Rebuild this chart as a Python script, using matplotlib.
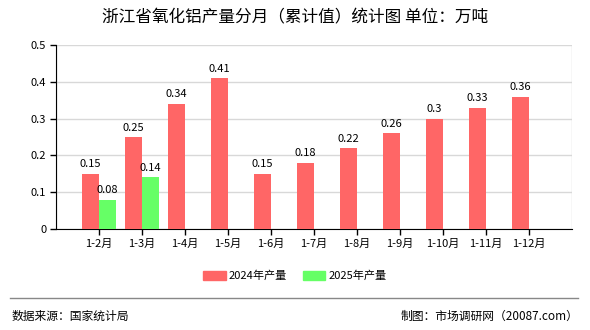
import numpy as np
import matplotlib.pyplot as plt
from matplotlib.patches import Patch
from matplotlib.lines import Line2D

plt.rcParams['font.family'] = ['Noto Sans CJK SC', 'DejaVu Sans']

# données
months = ['1-2月', '1-3月', '1-4月', '1-5月', '1-6月', '1-7月', '1-8月',
          '1-9月', '1-10月', '1-11月', '1-12月']
val_2024 = [0.15, 0.25, 0.34, 0.41, 0.15, 0.18, 0.22, 0.26, 0.3, 0.33, 0.36]
val_2025 = [0.08, 0.14]
yticks = [0, 0.1, 0.2, 0.3, 0.4, 0.5]

c24 = '#ff6666'
c25 = '#66ff66'

fig = plt.figure(figsize=(5.9, 3.3), dpi=100)
ax = fig.add_axes([56/590, 1-229/330, (572-56)/590, (229-45)/330])

x = np.arange(1, len(months) + 1)
w = 0.4
ax.bar(x - w, val_2024, width=w, align='edge', color=c24, zorder=3)
x25 = x[:len(val_2025)]
ax.bar(x25, val_2025, width=w, align='edge', color=c25, zorder=3)

# étiquettes de valeurs
def fmt(v):
    return ('%.2f' % v).rstrip('0').rstrip('.')

for xi, v in zip(x, val_2024):
    ax.text(xi - w/2, v + 0.012, fmt(v), ha='center', va='bottom', fontsize=8)
for xi, v in zip(x25, val_2025):
    ax.text(xi + w/2, v + 0.012, fmt(v), ha='center', va='bottom', fontsize=8)

ax.set_xlim(0, 12)
ax.set_ylim(0, 0.5)
ax.set_yticks(yticks)
ax.set_yticklabels(['0', '0.1', '0.2', '0.3', '0.4', '0.5'], fontsize=8)
ax.set_xticks(x)
ax.set_xticklabels(months, fontsize=8)
ax.set_xticks(np.arange(0, 13), minor=True)

ax.grid(True, which='major', axis='y', color='#d8d8d8', lw=1, zorder=0)
ax.grid(True, which='minor', axis='x', color='#d8d8d8', lw=1, zorder=0)
ax.tick_params(axis='x', which='minor', length=0)
ax.tick_params(axis='both', which='major', length=4, width=1, color='black', pad=3)
for s in ['top', 'right']:
    ax.spines[s].set_visible(False)
ax.spines['left'].set_color('black')
ax.spines['bottom'].set_color('black')

fig.text(0.5, 1 - 18/330, '浙江省氧化铝产量分月（累计值）统计图 单位：万吨',
         ha='center', va='center', fontsize=12)

handles = [Patch(color=c24, label='2024年产量'), Patch(color=c25, label='2025年产量')]
fig.legend(handles=handles, loc='center', bbox_to_anchor=(0.5, 1 - 276/330), ncol=2,
           frameon=False, fontsize=8, handlelength=2.0, handleheight=0.8,
           handletextpad=0.3, columnspacing=1.4)

fig.add_artist(Line2D([10/590, 578/590], [1 - 298/330, 1 - 298/330], color='#888888', lw=1))
fig.text(12/590, 1 - 316/330, '数据来源：国家统计局', ha='left', va='center', fontsize=8.5)
fig.text(578/590, 1 - 316/330, '制图：市场调研网（20087.com）', ha='right', va='center', fontsize=8.5)

plt.savefig('out.png', dpi=100)
